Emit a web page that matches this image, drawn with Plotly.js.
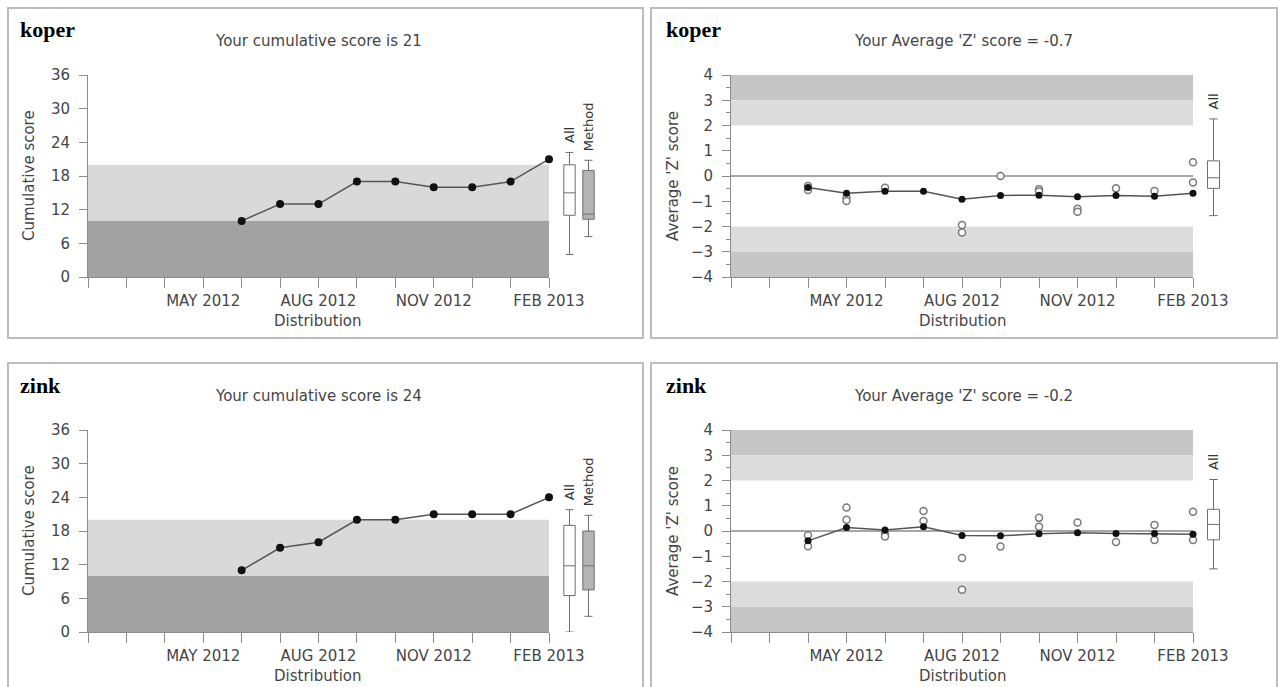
<!DOCTYPE html>
<html>
<head>
<meta charset="utf-8">
<script src="https://cdn.plot.ly/plotly-3.0.1.min.js"></script>
<style>
  html, body { margin: 0; padding: 0; background: #ffffff; }
  #chart { width: 1278px; height: 687px; }
</style>
</head>
<body>
<div id="chart"></div>
<script>
// ---------------- DATA ----------------
const months = ['FEB 2012','MAR 2012','APR 2012','MAY 2012','JUN 2012','JUL 2012','AUG 2012',
                'SEP 2012','OCT 2012','NOV 2012','DEC 2012','JAN 2013','FEB 2013'];
const tickLabels = ['','','','MAY 2012','','','AUG 2012','','','NOV 2012','','','FEB 2013'];

const analytes = ['koper', 'zink'];
const cumTitles = ['Your cumulative score is 21', 'Your cumulative score is 24'];
const zTitles = ["Your Average 'Z' score = -0.7", "Your Average 'Z' score = -0.2"];

// cumulative scores per distribution
const koperCum = [null,null,null,null,10,13,13,17,17,16,16,17,21];
const zinkCum  = [null,null,null,null,11,15,16,20,20,21,21,21,24];

// average Z score per distribution (filled points)
const koperZ = [null,null,-0.46,-0.68,-0.60,-0.60,-0.92,-0.77,-0.76,-0.82,-0.77,-0.80,-0.68];
const zinkZ  = [null,null,-0.39, 0.14, 0.04, 0.17,-0.18,-0.19,-0.11,-0.07,-0.10,-0.10,-0.13];

// individual Z scores (open points)
const koperZa = [null,null,-0.40,-0.85,-0.47,null,-1.94, 0.00,-0.52,-1.30,-0.49,-0.59, 0.54];
const koperZb = [null,null,-0.55,-0.99,null,null,-2.24,null,-0.61,-1.42,null,null,-0.26];
const zinkZa  = [null,null,-0.17, 0.93,-0.13, 0.79,-1.07,-0.61, 0.52, 0.34,-0.44, 0.24, 0.76];
const zinkZb  = [null,null,-0.60, 0.45,-0.22, 0.40,-2.33,null, 0.17,null,null,-0.36,-0.36];

// box summaries: [lower whisker, q1, median, q3, upper whisker]
const boxGroups = ['All', 'Method'];
const koperCumAllBox    = [4, 11, 15, 20, 22.2];
const koperCumMethodBox = [7.2, 10.3, 11.2, 19, 20.8];
const koperZAllBox      = [-1.57, -0.49, -0.07, 0.60, 2.26];
const zinkCumAllBox     = [0, 6.5, 11.8, 19, 21.8];
const zinkCumMethodBox  = [2.8, 7.5, 11.8, 18, 20.8];
const zinkZAllBox       = [-1.50, -0.35, 0.26, 0.86, 2.04];

// performance bands
const cumBands = [[0, 10], [10, 20]];
const zBands = [[3, 4], [2, 3], [-3, -2], [-4, -3]];
const zTarget = 0;

// ---------------- LAYOUT HELPERS ----------------
const W = 1278, H = 687;
const PX = p => p / W;
const PY = p => 1 - p / H;
const FONT = 'DejaVu Sans';
const TXT = '#454545';
const AXC = '#8c8c8c';

const traces = [];
const shapes = [];
const annotations = [];
const layout = {
  width: W, height: H,
  margin: {l: 0, r: 0, t: 0, b: 0},
  paper_bgcolor: '#ffffff', plot_bgcolor: 'rgba(0,0,0,0)',
  showlegend: false,
  font: {family: FONT, size: 15, color: TXT}
};

function mainX(domain, anchor) {
  return {
    domain: domain, anchor: anchor, type: 'category',
    categoryorder: 'array', categoryarray: months,
    range: [0, months.length - 1],
    tickmode: 'array', tickvals: months, ticktext: tickLabels,
    ticks: 'outside', ticklen: 10, tickcolor: AXC, tickwidth: 1,
    showline: true, linecolor: AXC, linewidth: 1,
    showgrid: false, zeroline: false, tickangle: 0,
    tickfont: {family: FONT, size: 15, color: TXT}, fixedrange: true
  };
}
function boxX(domain, anchor, cats) {
  return {
    domain: domain, anchor: anchor, type: 'category',
    categoryorder: 'array', categoryarray: cats,
    range: [-0.5, cats.length - 0.5], visible: false, fixedrange: true
  };
}
function cumY(domain, anchor) {
  return {
    domain: domain, anchor: anchor, range: [0, 36], tick0: 0, dtick: 6,
    ticks: 'outside', ticklen: 8, tickcolor: AXC, ticklabelstandoff: 6,
    showline: true, linecolor: AXC, linewidth: 1,
    showgrid: false, zeroline: false,
    tickfont: {family: FONT, size: 15, color: TXT}, fixedrange: true
  };
}
function zY(domain, anchor) {
  return {
    domain: domain, anchor: anchor, range: [-4, 4], tick0: 0, dtick: 1,
    ticks: 'outside', ticklen: 8, tickcolor: AXC, ticklabelstandoff: 6,
    minor: {dtick: 0.5, ticks: 'outside', ticklen: 4, tickcolor: AXC},
    showline: true, linecolor: AXC, linewidth: 1,
    showgrid: false, zeroline: false,
    tickfont: {family: FONT, size: 15, color: TXT}, fixedrange: true
  };
}

function addBox(xa, ya, name, stats, fill) {
  traces.push({
    type: 'box', xaxis: xa, yaxis: ya, x: [name],
    lowerfence: [stats[0]], q1: [stats[1]], median: [stats[2]], q3: [stats[3]], upperfence: [stats[4]],
    width: 0.6, whiskerwidth: 0.7, boxpoints: false,
    fillcolor: fill, line: {color: '#6e6e6e', width: 1}, hoverinfo: 'skip'
  });
  annotations.push({
    xref: xa, yref: ya, x: name, y: stats[4], text: name, showarrow: false,
    textangle: -90, yanchor: 'bottom', xanchor: 'center', yshift: 7,
    font: {family: FONT, size: 13, color: '#333333'}
  });
}

function addBands(xa, ya, bands, colors) {
  bands.forEach((b, i) => shapes.push({
    type: 'rect', xref: xa + ' domain', yref: ya, x0: 0, x1: 1, y0: b[0], y1: b[1],
    fillcolor: colors[i], line: {width: 0}, layer: 'below'
  }));
}

function addText(x, y, text, opts) {
  annotations.push(Object.assign({
    xref: 'paper', yref: 'paper', x: PX(x), y: PY(y), text: text, showarrow: false,
    xanchor: 'center', yanchor: 'middle',
    font: {family: FONT, size: 15, color: TXT}
  }, opts || {}));
}

// ---------------- PANELS ----------------
const rows = [
  {top: 0, cum: koperCum, z: koperZ, za: koperZa, zb: koperZb,
   cumAll: koperCumAllBox, cumMethod: koperCumMethodBox, zAll: koperZAllBox},
  {top: 355, cum: zinkCum, z: zinkZ, za: zinkZa, zb: zinkZb,
   cumAll: zinkCumAllBox, cumMethod: zinkCumMethodBox, zAll: zinkZAllBox}
];

rows.forEach((r, i) => {
  const t = r.top;
  const n = i * 4;
  const xCum = 'x' + (n === 0 ? '' : n + 1), xCumB = 'x' + (n + 2);
  const xZ = 'x' + (n + 3), xZB = 'x' + (n + 4);
  const yCum = 'y' + (i * 2 === 0 ? '' : i * 2 + 1), yZ = 'y' + (i * 2 + 2);
  const ydom = [PY(277 + t), PY(75 + t)];

  layout['xaxis' + (n === 0 ? '' : n + 1)] = mainX([PX(88), PX(549)], yCum);
  layout['xaxis' + (n + 2)] = boxX([PX(560), PX(598)], yCum, boxGroups);
  layout['xaxis' + (n + 3)] = mainX([PX(731), PX(1193)], yZ);
  layout['xaxis' + (n + 4)] = boxX([PX(1203.5), PX(1223.5)], yZ, ['All']);
  layout['yaxis' + (i * 2 === 0 ? '' : i * 2 + 1)] = cumY(ydom, xCum);
  layout['yaxis' + (i * 2 + 2)] = zY(ydom, xZ);

  // bands
  addBands(xCum, yCum, cumBands, ['#a2a2a2', '#d9d9d9']);
  addBands(xZ, yZ, zBands, ['#c6c6c6', '#dcdcdc', '#dcdcdc', '#c6c6c6']);
  // target line at Z = 0, only across the main plot
  shapes.push({type: 'line', xref: xZ + ' domain', yref: yZ, x0: 0, x1: 1, y0: zTarget, y1: zTarget,
    line: {color: '#8a8a8a', width: 1.5}, layer: 'below'});

  // cumulative line
  traces.push({
    type: 'scatter', mode: 'lines+markers', xaxis: xCum, yaxis: yCum,
    x: months, y: r.cum, cliponaxis: false, hoverinfo: 'skip',
    line: {color: '#555555', width: 1.5},
    marker: {color: '#111111', size: 8}
  });
  addBox(xCumB, yCum, 'All', r.cumAll, '#ffffff');
  addBox(xCumB, yCum, 'Method', r.cumMethod, '#b4b4b4');

  // Z scores: open individual points
  [r.za, r.zb].forEach(arr => traces.push({
    type: 'scatter', mode: 'markers', xaxis: xZ, yaxis: yZ,
    x: months, y: arr, cliponaxis: false, hoverinfo: 'skip',
    marker: {color: '#ffffff', size: 7, line: {color: '#7a7a7a', width: 1.5}}
  }));
  traces.push({
    type: 'scatter', mode: 'lines+markers', xaxis: xZ, yaxis: yZ,
    x: months, y: r.z, cliponaxis: false, hoverinfo: 'skip',
    line: {color: '#555555', width: 1.5},
    marker: {color: '#111111', size: 7}
  });
  addBox(xZB, yZ, 'All', r.zAll, '#ffffff');

  // panel frames
  shapes.push({type: 'rect', xref: 'paper', yref: 'paper', x0: PX(8), x1: PX(643),
    y0: PY(i === 0 ? 338 : 700), y1: PY(8 + t), line: {color: '#bdbdbd', width: 2}, layer: 'below'});
  shapes.push({type: 'rect', xref: 'paper', yref: 'paper', x0: PX(651), x1: PX(1277),
    y0: PY(i === 0 ? 338 : 700), y1: PY(8 + t), line: {color: '#bdbdbd', width: 2}, layer: 'below'});

  // texts
  const lab = {family: 'Liberation Serif', size: 22, color: '#000000', weight: 'bold'};
  addText(18, 30 + t, '<b>' + analytes[i] + '</b>', {xanchor: 'left', font: lab});
  addText(664, 30 + t, '<b>' + analytes[i] + '</b>', {xanchor: 'left', font: lab});
  addText(318, 41 + t, cumTitles[i]);
  addText(963, 41 + t, zTitles[i]);
  addText(318, 321 + t, 'Distribution');
  addText(963, 321 + t, 'Distribution');
  addText(29, 176 + t, 'Cumulative score', {textangle: -90});
  addText(673, 176 + t, "Average 'Z' score", {textangle: -90});
});

layout.shapes = shapes;
layout.annotations = annotations;

Plotly.newPlot('chart', traces, layout, {displayModeBar: false, staticPlot: true});
</script>
</body>
</html>
